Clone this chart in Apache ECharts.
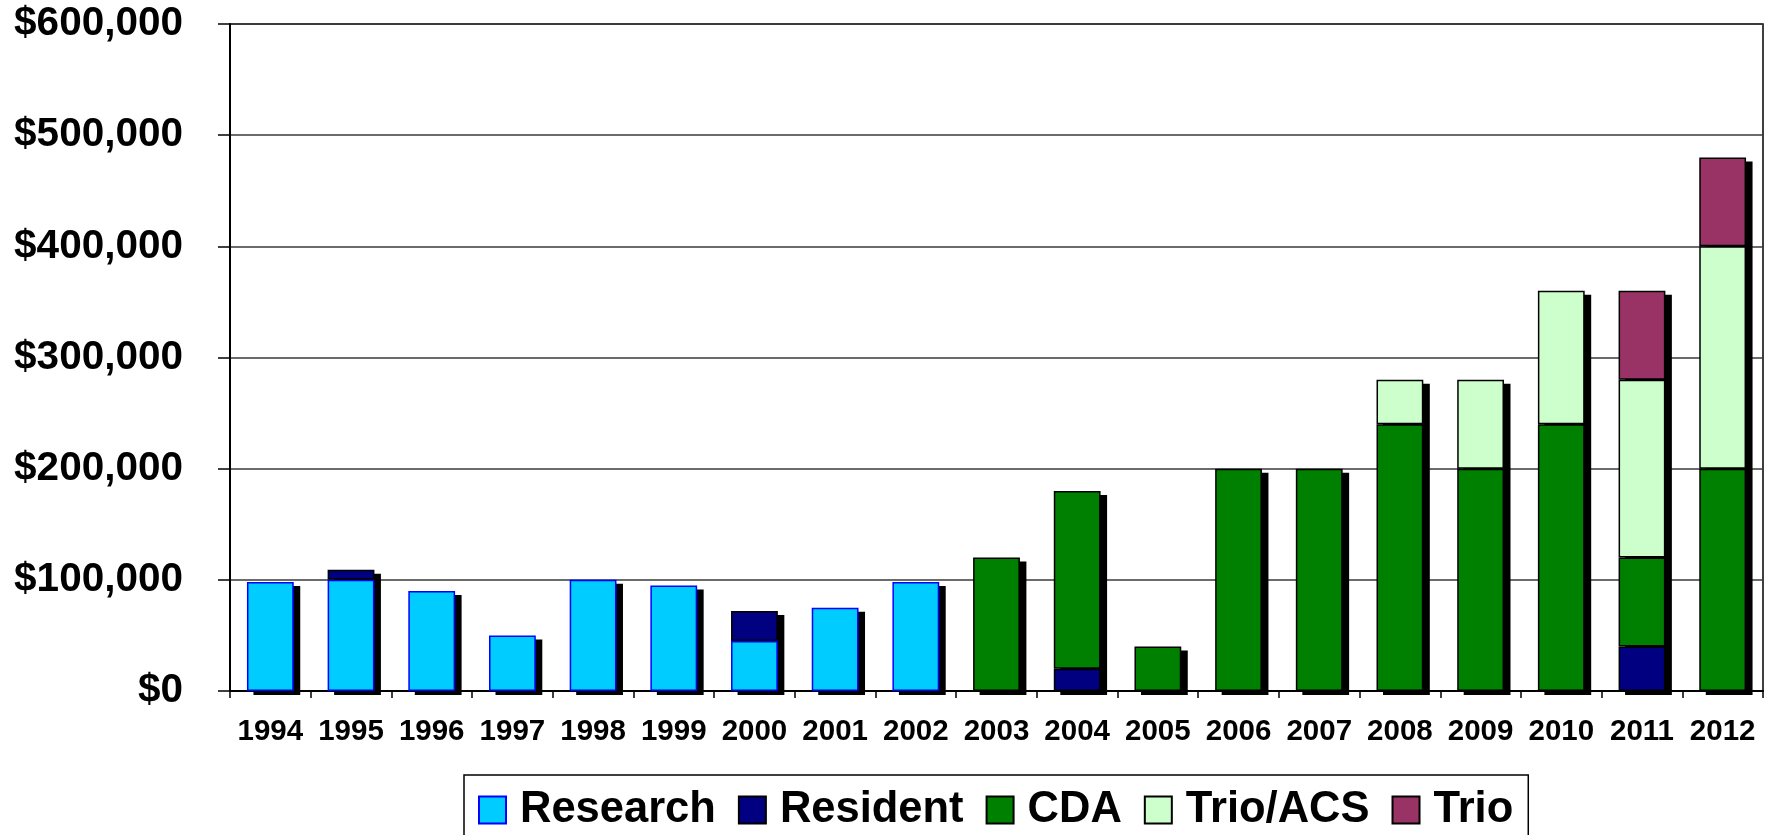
<!DOCTYPE html>
<html>
<head>
<meta charset="utf-8">
<script src="https://cdn.jsdelivr.net/npm/echarts@6/dist/echarts.min.js"></script>
<style>
html,body{margin:0;padding:0;background:#fff;}
#chart{width:1765px;height:835px;}
</style>
</head>
<body>
<div id="chart"></div>
<script>
const years = ['1994','1995','1996','1997','1998','1999','2000','2001','2002','2003','2004','2005','2006','2007','2008','2009','2010','2011','2012'];
const research = [98000,100000,90000,50000,100000,95000,45000,75000,98000,null,null,null,null,null,null,null,null,null,null];
const resident = [null,9000,null,null,null,null,27000,null,null,null,20000,null,null,null,null,null,null,40000,null];
const cda      = [null,null,null,null,null,null,null,null,null,120000,160000,40000,200000,200000,240000,200000,240000,80000,200000];
const trioAcs  = [null,null,null,null,null,null,null,null,null,null,null,null,null,null,40000,80000,120000,160000,200000];
const trio     = [null,null,null,null,null,null,null,null,null,null,null,null,null,null,null,null,null,80000,80000];
const yTicks = [0,100000,200000,300000,400000,500000,600000];

const totals = years.map((y,i)=>[research,resident,cda,trioAcs,trio].reduce((s,a)=>s+(a[i]||0),0));
const BAR_FRAC = 0.58;
const FONT = '"Liberation Sans", Arial, sans-serif';

function barSeries(name, data, fill, border){
  return {
    name, type:'bar', stack:'total', data,
    barWidth: (BAR_FRAC*100)+'%',
    z: 3,
    itemStyle:{color:fill, borderColor:border, borderWidth:1.5},
    emphasis:{disabled:true}
  };
}

const chart = echarts.init(document.getElementById('chart'), null, {renderer:'canvas'});
chart.setOption({
  animation:false,
  backgroundColor:'#fff',
  grid:{left:230, right:2, top:24, bottom:144, show:true, borderColor:'#000', borderWidth:1.5, backgroundColor:'transparent'},
  legend:{
    left:464, top:775,
    padding:[13,15,40,14],
    borderColor:'#000', borderWidth:1.5, backgroundColor:'#fff',
    itemWidth:27, itemHeight:27, itemGap:22,
    icon:'rect',
    textStyle:{fontFamily:FONT, fontWeight:'bold', fontSize:43.5, color:'#000', lineHeight:42, padding:[0,0,0,9]},
    data:['Research','Resident','CDA','Trio/ACS','Trio']
  },
  xAxis:{
    type:'category', data:years,
    axisLine:{show:true, lineStyle:{color:'#000', width:2}},
    axisTick:{show:true, length:7, lineStyle:{color:'#000', width:1.5}},
    axisLabel:{fontFamily:FONT, fontWeight:'bold', fontSize:29.5, color:'#000', margin:26, interval:0}
  },
  yAxis:{
    type:'value', min:0, max:600000, interval:100000,
    axisLine:{show:true, lineStyle:{color:'#000', width:2}},
    axisTick:{show:true, length:12, lineStyle:{color:'#000', width:1.5}},
    splitLine:{show:true, lineStyle:{color:'#3a3a3a', width:1.5}},
    axisLabel:{fontFamily:FONT, fontWeight:'bold', fontSize:40.5, color:'#000', margin:47,
      formatter:v=> yTicks.includes(v) ? '$'+v.toLocaleString('en-US') : ''}
  },
  series:[
    {
      name:'shadow', type:'custom', z:1, silent:true,
      data: totals.map((t,i)=>[i,t]),
      renderItem:(params, api)=>{
        const top = api.coord([api.value(0), api.value(1)]);
        const base = api.coord([api.value(0), 0]);
        const w = api.size([1,0])[0]*BAR_FRAC;
        return {type:'rect', shape:{x:top[0]-w/2+6.5, y:top[1]+4, width:w, height:base[1]-top[1]}, style:{fill:'#000'}};
      }
    },
    barSeries('Research', research, '#00CCFF', '#0000FF'),
    barSeries('Resident', resident, '#000080', '#000'),
    barSeries('CDA', cda, '#008000', '#000'),
    barSeries('Trio/ACS', trioAcs, '#CCFFCC', '#000'),
    barSeries('Trio', trio, '#993366', '#000')
  ]
});
</script>
</body>
</html>
